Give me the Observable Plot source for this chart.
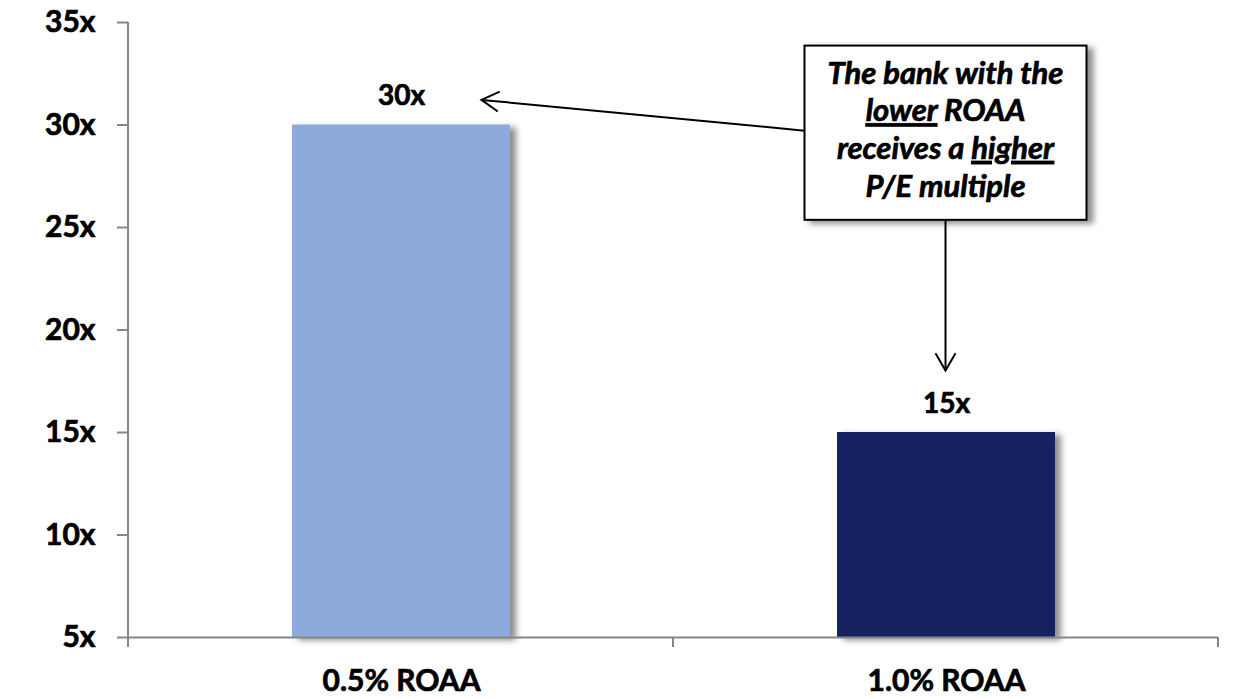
<!DOCTYPE html>
<html>
<head>
<meta charset="utf-8">
<script src="https://cdn.jsdelivr.net/npm/d3@7"></script>
<script src="https://cdn.jsdelivr.net/npm/@observablehq/plot@0.6"></script>
<style>
  html, body { margin: 0; padding: 0; background: #fff; }
  #chart svg { display: block; }
  /* heavier glyphs for the bold labels */
  #chart svg text { stroke: #000; stroke-width: 0.7px; paint-order: stroke; }
</style>
</head>
<body>
<div id="chart"></div>
<script>
// P/E multiple by return on average assets
const categories = ["0.5% ROAA", "1.0% ROAA"];
const peMultiples = [30, 15];
const barColors = ["#8EAADB", "#16235E"];
const yTickValues = [5, 10, 15, 20, 25, 30, 35];

// Callout text, one entry per line; underlined words flagged
const calloutLines = [
  [{text: "The bank with the"}],
  [{text: "lower", underline: true}, {text: " ROAA"}],
  [{text: "receives a "}, {text: "higher", underline: true}],
  [{text: "P/E multiple"}]
];

const data = categories.map((category, i) => ({category, pe: peMultiples[i]}));
const yDomain = [yTickValues[0], yTickValues[yTickValues.length - 1]];
const FONT = "Lato, 'Open Sans', 'DejaVu Sans', sans-serif";
const WEIGHT = "bold";
const AXIS_GRAY = "#868686";

const chart = Plot.plot({
  width: 1241,
  height: 699,
  marginLeft: 128,
  marginRight: 23,
  marginTop: 22,
  marginBottom: 62,
  style: {fontFamily: FONT, fontWeight: WEIGHT, fontSize: "30px", background: "#fff", color: "#000", overflow: "visible"},
  x: {domain: categories, paddingInner: 0.6, paddingOuter: 0.3, label: null, tickSize: 0, tickPadding: 32},
  y: {domain: yDomain, ticks: yTickValues, tickFormat: d => `${d}x`, tickSize: 11, tickPadding: 22, label: null},
  color: {domain: categories, range: barColors},
  marks: [
    Plot.barY(data, {x: "category", y1: yDomain[0], y2: "pe", fill: "category"}),
    Plot.ruleY([yDomain[0]], {stroke: AXIS_GRAY, strokeWidth: 2}),
    Plot.text(data, {x: "category", y: "pe", text: d => `${d.pe}x`, dy: -20, lineAnchor: "bottom", fontSize: 28, fontWeight: WEIGHT})
  ]
});

document.getElementById("chart").appendChild(chart);

// Rebuild the scales Plot used so annotations sit in data space
const sx = chart.scale("x");
const sy = chart.scale("y");
const xScale = d3.scaleBand(sx.domain, sx.range)
  .paddingInner(sx.paddingInner ?? 0.6)
  .paddingOuter(sx.paddingOuter ?? 0.3)
  .align(sx.align ?? 0.5);
const yScale = d3.scaleLinear(sy.domain, sy.range);
const bw = xScale.bandwidth();
const cx = c => xScale(c) + bw / 2;

const svg = d3.select(chart);

// Soft drop shadow for bars and callout box
const defs = svg.insert("defs", ":first-child");
const f = defs.append("filter").attr("id", "soft-shadow")
  .attr("x", "-10%").attr("y", "-10%").attr("width", "130%").attr("height", "130%");
f.append("feDropShadow").attr("dx", 6).attr("dy", 3).attr("stdDeviation", 3)
  .attr("flood-color", "#000").attr("flood-opacity", 0.45);

svg.selectAll('g[aria-label="bar"] rect').attr("filter", "url(#soft-shadow)");

// Axis styling: gray ticks
svg.selectAll('g[aria-label="y-axis tick"] path, g[aria-label="y-axis"] path, g[aria-label="x-axis"] path')
  .attr("stroke", AXIS_GRAY).attr("stroke-width", 2);

// Vertical axis line and category boundary ticks
const [x0, x1] = xScale.range();
const yBase = yScale(yDomain[0]);
const axisG = svg.append("g").attr("stroke", AXIS_GRAY).attr("stroke-width", 2);
axisG.append("line").attr("x1", x0).attr("x2", x0).attr("y1", yScale(yDomain[1])).attr("y2", yBase + 10);
const boundaries = [x0, ...categories.slice(1).map(c => xScale(c) - xScale.step() * xScale.paddingInner() / 2), x1];
boundaries.forEach(bx => {
  axisG.append("line").attr("x1", bx).attr("x2", bx).attr("y1", yBase).attr("y2", yBase + 10);
});

// Callout box above the second bar
const boxCx = cx(categories[1]);
const boxW = 282;
const boxTop = yScale(33.85);
const boxBottom = yScale(25.35);
const boxLeft = boxCx - boxW / 2;

// Arrow helper: line with an open V head at the tip
function arrow(g, sxp, syp, tx, ty) {
  g.append("line").attr("x1", sxp).attr("y1", syp).attr("x2", tx).attr("y2", ty);
  const a = Math.atan2(ty - syp, tx - sxp);
  const len = 20, spread = Math.PI / 6;
  const p = [a + Math.PI - spread, a + Math.PI + spread]
    .map(t => [tx + len * Math.cos(t), ty + len * Math.sin(t)]);
  g.append("path").attr("fill", "none")
    .attr("d", `M${p[0][0]},${p[0][1]}L${tx},${ty}L${p[1][0]},${p[1][1]}`);
}

const arrows = svg.append("g").attr("stroke", "#000").attr("stroke-width", 2).attr("fill", "none");
arrow(arrows, boxLeft, yScale(29.7), cx(categories[0]) + 81, yScale(31.2));
arrow(arrows, boxCx, boxBottom, boxCx, yScale(18.0));

const box = svg.append("g");
box.append("rect")
  .attr("x", boxLeft).attr("y", boxTop)
  .attr("width", boxW).attr("height", boxBottom - boxTop)
  .attr("fill", "#fff").attr("stroke", "#000").attr("stroke-width", 2)
  .attr("filter", "url(#soft-shadow)");

const boxText = box.append("text")
  .attr("text-anchor", "middle")
  .attr("font-family", FONT)
  .attr("font-weight", WEIGHT)
  .attr("font-style", "italic")
  .attr("font-size", 31)
  .attr("fill", "#000");
calloutLines.forEach((segments, i) => {
  const line = boxText.append("tspan").attr("x", boxCx).attr("y", boxTop + 38 + i * 37.7);
  segments.forEach(s => {
    const t = line.append("tspan").text(s.text);
    if (s.underline) t.attr("text-decoration", "underline");
  });
});
</script>
</body>
</html>
